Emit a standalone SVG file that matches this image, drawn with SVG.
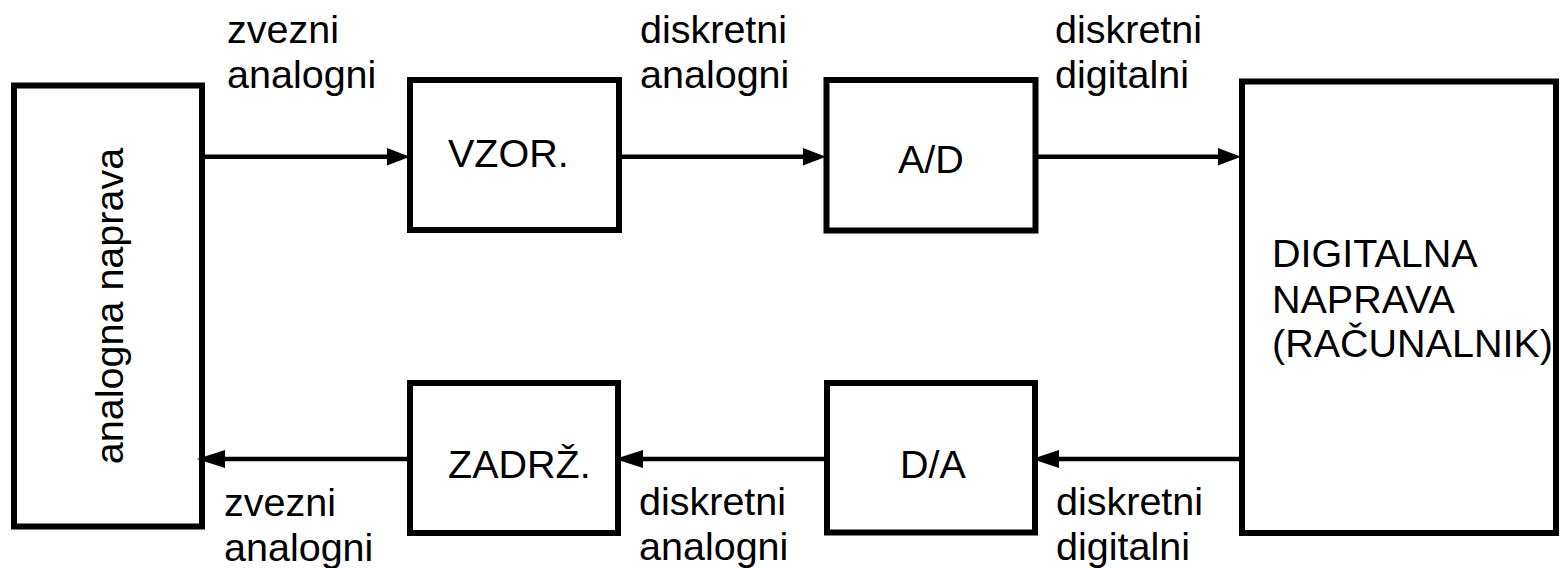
<svg xmlns="http://www.w3.org/2000/svg" width="1562" height="568" viewBox="0 0 1562 568">
<style>
.box{fill:#fff;stroke:#000;stroke-width:6}
.t{font-family:"Liberation Sans",Arial,sans-serif;font-size:39.5px;fill:#000}
.ln{stroke:#000;stroke-width:4.5;fill:none}
.ah{fill:#000;stroke:none}
</style>
<rect width="1562" height="568" fill="#fff"/>
<g id="analogna">
<rect class="box" x="14" y="85.5" width="188" height="441"/>
<text class="t" transform="translate(123,306) rotate(-90)" text-anchor="middle">analogna naprava</text>
</g>
<g id="vzor">
<rect class="box" x="410" y="80" width="209" height="150"/>
<text class="t" x="448" y="167">VZOR.</text>
</g>
<g id="ad">
<rect class="box" x="826.5" y="80" width="209" height="150.5"/>
<text class="t" x="898" y="172.5">A/D</text>
</g>
<g id="digitalna">
<rect class="box" x="1242" y="81.5" width="314" height="451.5"/>
<text class="t" x="1272" y="267">DIGITALNA</text>
<text class="t" x="1272" y="313">NAPRAVA</text>
<text class="t" x="1272" y="357">(RAČUNALNIK)</text>
</g>
<g id="da">
<rect class="box" x="827" y="383" width="208" height="149.5"/>
<text class="t" x="900" y="478">D/A</text>
</g>
<g id="zadrz">
<rect class="box" x="410" y="383" width="208" height="150"/>
<text class="t" x="448" y="478">ZADRŽ.</text>
</g>
<g id="connectors">
<line class="ln" x1="205" y1="156.7" x2="390" y2="156.7"/>
<polygon class="ah" points="387,148 410,156.7 387,165.4"/>
<line class="ln" x1="622" y1="156.7" x2="805" y2="156.7"/>
<polygon class="ah" points="803,148 826,156.7 803,165.4"/>
<line class="ln" x1="1038" y1="156.7" x2="1220" y2="156.7"/>
<polygon class="ah" points="1218,148 1241,156.7 1218,165.4"/>
<line class="ln" x1="1242" y1="459" x2="1057" y2="459"/>
<polygon class="ah" points="1059,450 1032,459 1059,468"/>
<line class="ln" x1="827" y1="459" x2="641" y2="459"/>
<polygon class="ah" points="643,450 615,459 643,468"/>
<line class="ln" x1="410" y1="459" x2="223" y2="459"/>
<polygon class="ah" points="225,450 197,459 225,468"/>
</g>
<g id="labels">
<text class="t" x="227" y="43">zvezni</text>
<text class="t" x="227" y="88">analogni</text>
<text class="t" x="640" y="43">diskretni</text>
<text class="t" x="640" y="88">analogni</text>
<text class="t" x="1055" y="43">diskretni</text>
<text class="t" x="1055" y="88">digitalni</text>
<text class="t" x="224" y="516">zvezni</text>
<text class="t" x="224" y="561">analogni</text>
<text class="t" x="639" y="515">diskretni</text>
<text class="t" x="639" y="560">analogni</text>
<text class="t" x="1056" y="515">diskretni</text>
<text class="t" x="1056" y="560">digitalni</text>
</g>
</svg>
